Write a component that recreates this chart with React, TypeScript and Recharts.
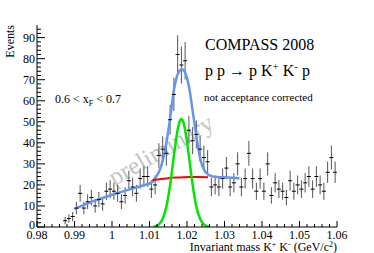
import { ComposedChart, XAxis, YAxis, Scatter, ErrorBar, Line } from 'recharts'

// invariant mass bin centres (GeV/c^2)
const massBins = [
  0.9875, 0.9885, 0.9895, 0.9905, 0.9915, 0.9925, 0.9935, 0.9945, 0.9955, 0.9965,
  0.9975, 0.9985, 0.9995, 1.0005, 1.0015, 1.0025, 1.0035, 1.0045, 1.0055, 1.0065,
  1.0075, 1.0085, 1.0095, 1.0105, 1.0115, 1.0125, 1.0135, 1.0145, 1.0155, 1.0165,
  1.0175, 1.0185, 1.0195, 1.0205, 1.0215, 1.0225, 1.0235, 1.0245, 1.0255, 1.0265,
  1.0275, 1.0285, 1.0295, 1.0305, 1.0315, 1.0325, 1.0335, 1.0345, 1.0355, 1.0365,
  1.0375, 1.0385, 1.0395, 1.0405, 1.0415, 1.0425, 1.0435, 1.0445, 1.0455, 1.0465,
  1.0475, 1.0485, 1.0495, 1.0505, 1.0515, 1.0525, 1.0535, 1.0545, 1.0555, 1.0565,
  1.0575, 1.0585, 1.0595,
]

const counts = [
  3, 4, 5, 9, 16, 9, 12, 14, 10, 13,
  11, 17, 18, 17, 16, 12, 15, 22, 19, 16,
  23, 24, 24, 18, 20, 34, 37, 35, 51, 63,
  82, 77, 79, 46, 41, 44, 37, 33, 31, 19,
  20, 19, 23, 28, 19, 21, 30, 19, 23, 35,
  23, 17, 23, 17, 30, 15, 21, 18, 17, 14,
  22, 17, 20, 18, 21, 24, 18, 24, 20, 17,
  26, 33, 26,
]

const countErrors = [
  1.7, 2, 2.2, 3, 4, 3, 3.5, 3.7, 3.2, 3.6,
  3.3, 4.1, 4.2, 4.1, 4, 3.5, 3.9, 4.7, 4.4, 4,
  4.8, 4.9, 4.9, 4.2, 4.5, 5.8, 6.1, 5.9, 7.1, 7.9,
  9.1, 8.8, 8.9, 6.8, 6.4, 6.6, 6.1, 5.7, 5.6, 4.4,
  4.5, 4.4, 4.8, 5.3, 4.4, 4.6, 5.5, 4.4, 4.8, 5.9,
  4.8, 4.1, 4.8, 4.1, 5.5, 3.9, 4.6, 4.2, 4.1, 3.7,
  4.7, 4.1, 4.5, 4.2, 4.6, 4.9, 4.2, 4.9, 4.5, 4.1,
  5.1, 5.7, 5.1,
]

// total fit (blue)
const totalFitMass = [
  0.99, 0.992, 0.994, 0.996, 0.998, 1.0, 1.002, 1.004, 1.006, 1.008,
  1.0106, 1.0116, 1.0126, 1.0136, 1.0146, 1.0156, 1.0166, 1.0176, 1.0181, 1.0186,
  1.0191, 1.0196, 1.0206, 1.0216, 1.0226, 1.0236, 1.0246, 1.0256, 1.0266, 1.028,
  1.03, 1.032, 1.034,
]
const totalFitValue = [
  8.5, 10.2, 11.6, 12.9, 14.1, 15.3, 16.4, 17.5, 18.6, 19.6,
  21.2, 23.5, 26.5, 32, 41, 53, 66, 73, 74.4, 75,
  74.4, 73, 66, 54, 42, 32, 27, 25, 24.2, 23.8,
  23.6, 23.4, 23.2,
]

// background (red)
const bgFitMass = [1.0108, 1.013, 1.015, 1.017, 1.019, 1.021, 1.023, 1.0256]
const bgFitValue = [22.2, 22.8, 23.2, 23.5, 23.7, 23.8, 23.8, 23.7]

// phi signal (green)
const sigFitMass = [
  1.011, 1.0115, 1.0125, 1.0135, 1.0145, 1.0155, 1.0165, 1.0175, 1.018, 1.0185,
  1.019, 1.0195, 1.0205, 1.0215, 1.0225, 1.0235, 1.0245, 1.0255, 1.026,
]
const sigFitValue = [
  0.1, 0.3, 1.2, 3.8, 9.6, 20, 33.8, 46.2, 50, 51.3,
  50, 46.2, 33.8, 20, 9.6, 3.8, 1.2, 0.3, 0.1,
]

const xMajorTicks = [0.98, 0.99, 1.0, 1.01, 1.02, 1.03, 1.04, 1.05, 1.06]
const xMajorLabels = ['0.98', '0.99', '1', '1.01', '1.02', '1.03', '1.04', '1.05', '1.06']
const yMajorTicks = [0, 10, 20, 30, 40, 50, 60, 70, 80, 90]

const xTicks = Array.from({ length: 41 }, (_, i) => +(0.98 + i * 0.002).toFixed(3))
const yTicks = Array.from({ length: 48 }, (_, i) => i * 2)

const serif = '"Liberation Serif", "DejaVu Serif", serif'

const points = massBins.map((m, i) => ({ m, v: counts[i], e: countErrors[i] }))
const totalFit = totalFitMass.map((m, i) => ({ m, v: totalFitValue[i] }))
const bgFit = bgFitMass.map((m, i) => ({ m, v: bgFitValue[i] }))
const sigFit = sigFitMass.map((m, i) => ({ m, v: sigFitValue[i] }))

const XTick = ({ x, y, payload }: any) => {
  const idx = xMajorTicks.findIndex((t) => Math.abs(t - payload.value) < 1e-6)
  const major = idx >= 0
  return (
    <g>
      <line x1={x} x2={x} y1={y} y2={y - (major ? 6 : 3)} stroke="#000" />
      {major && (
        <text x={x} y={y + 11.5} textAnchor="middle" fontSize={12} fontFamily={serif} fill="#000">
          {xMajorLabels[idx]}
        </text>
      )}
    </g>
  )
}

const YTick = ({ x, y, payload }: any) => {
  const major = yMajorTicks.includes(payload.value)
  // the zero label sits just above the 0.98 label, as in ROOT
  const dy = payload.value === 0 ? 2 : 4
  return (
    <g>
      <line x1={x} x2={x + (major ? 8 : 4)} y1={y} y2={y} stroke="#000" />
      {major && (
        <text x={x - 2} y={y + dy} textAnchor="end" fontSize={12} fontFamily={serif} fill="#000">
          {payload.value}
        </text>
      )}
    </g>
  )
}

const Marker = ({ cx, cy }: any) => (
  <line x1={cx - 2} x2={cx + 2} y1={cy} y2={cy} stroke="#000" strokeWidth={1} />
)

const App = () => {
  return (
    <div style={{ position: 'absolute', left: 0, top: 0, width: 374, height: 253, background: '#fff' }}>
      <svg width={374} height={253} style={{ position: 'absolute', left: 0, top: 0 }}>
        <text
          x={0}
          y={0}
          transform="translate(165 157) rotate(-30)"
          textAnchor="middle"
          fontSize={25}
          fontFamily={serif}
          fill="#c4c4c4"
        >
          preliminary
        </text>
      </svg>

      <div style={{ position: 'absolute', left: 0, top: 0 }}>
        <ComposedChart width={374} height={253} margin={{ top: 25, right: 37, bottom: 0, left: 0 }}>
          <XAxis
            dataKey="m"
            type="number"
            domain={[0.98, 1.06]}
            allowDataOverflow
            ticks={xTicks}
            interval={0}
            tickSize={0}
            tickMargin={0}
            height={26}
            tick={<XTick />}
            tickLine={false}
            axisLine={{ stroke: '#000' }}
          />
          <XAxis
            xAxisId="top"
            orientation="top"
            type="number"
            domain={[0.98, 1.06]}
            height={0}
            tick={false}
            tickLine={false}
            axisLine={{ stroke: '#8c8c8c', strokeWidth: 1.5 }}
          />
          <YAxis
            type="number"
            domain={[0, 96]}
            allowDataOverflow
            ticks={yTicks}
            interval={0}
            tickSize={0}
            tickMargin={0}
            width={37}
            tick={<YTick />}
            tickLine={false}
            axisLine={{ stroke: '#000' }}
          />
          <YAxis
            yAxisId="right"
            orientation="right"
            type="number"
            domain={[0, 96]}
            width={0}
            tick={false}
            tickLine={false}
            axisLine={{ stroke: '#8c8c8c', strokeWidth: 1.5 }}
          />
          <Scatter data={points} dataKey="v" shape={<Marker />} isAnimationActive={false}>
            <ErrorBar dataKey="e" direction="y" width={0} stroke="#555" strokeWidth={1} isAnimationActive={false} />
          </Scatter>
          <Line data={totalFit} dataKey="v" type="monotone" stroke="#6495ed" strokeWidth={2.5} dot={false} isAnimationActive={false} />
          <Line data={bgFit} dataKey="v" type="monotone" stroke="#ff0000" strokeWidth={2} dot={false} isAnimationActive={false} />
          <Line data={sigFit} dataKey="v" type="monotone" stroke="#00e600" strokeWidth={2.5} dot={false} isAnimationActive={false} />
        </ComposedChart>
      </div>

      <svg width={374} height={253} style={{ position: 'absolute', left: 0, top: 0, pointerEvents: 'none' }}>
        <text x={0} y={0} transform="translate(13.5 25) rotate(-90)" textAnchor="end" fontSize={12} fontFamily={serif} fill="#000">
          Events
        </text>
        <text x={55} y={103} fontSize={12} fontFamily={serif} fill="#000">
          0.6 &lt; x<tspan fontSize={8} dy={3}>F</tspan><tspan dy={-3}> &lt; 0.7</tspan>
        </text>
        <text x={205} y={50} fontSize={16} fontFamily={serif} fill="#000">
          COMPASS 2008
        </text>
        <text x={205} y={76} fontSize={16} fontFamily={serif} fill="#000">
          p p → p K<tspan fontSize={11} dy={-6}>+</tspan><tspan dy={6}> K</tspan><tspan fontSize={11} dy={-6}>-</tspan><tspan dy={6}> p</tspan>
        </text>
        <text x={204} y={100.5} fontSize={11} fontFamily={serif} fill="#000">
          not acceptance corrected
        </text>
        <text x={337} y={251} textAnchor="end" fontSize={12} fontFamily={serif} fill="#000">
          Invariant mass K<tspan fontSize={8} dy={-4}>+</tspan><tspan dy={4}> K</tspan><tspan fontSize={8} dy={-4}>-</tspan><tspan dy={4}> (GeV/c</tspan><tspan fontSize={8} dy={-4}>2</tspan><tspan dy={4}>)</tspan>
        </text>
      </svg>
    </div>
  )
}

export default App
